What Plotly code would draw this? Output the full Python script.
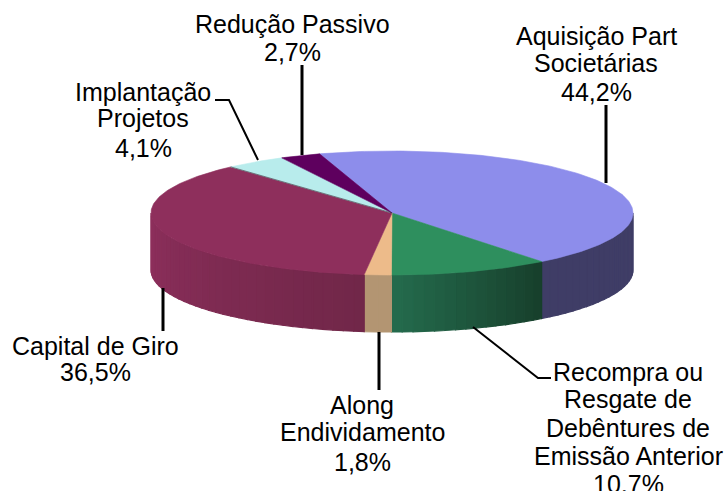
import numpy as np
import plotly.graph_objects as go

# Data (clockwise from the start angle)
labels = ["Aquisição Part Societárias", "Recompra ou Resgate de Debêntures de Emissão Anterior",
          "Along Endividamento", "Capital de Giro", "Implantação Projetos", "Redução Passivo"]
values = [44.2, 10.7, 1.8, 36.5, 4.1, 2.7]
label_lines = [["Aquisição Part", "Societárias", "44,2%"],
               ["Recompra ou", "Resgate de", "Debêntures de", "Emissão Anterior", "10,7%"],
               ["Along", "Endividamento", "1,8%"],
               ["Capital de Giro", "36,5%"],
               ["Implantação", "Projetos", "4,1%"],
               ["Redução Passivo", "2,7%"]]
top_colors = ["#8D8DEB", "#2E8F5E", "#EDBB8A", "#8E2F5C", "#B8ECEC", "#5E005E"]
wall_from = [(63, 61, 102), (36, 106, 76), (179, 149, 114), (141, 47, 92), None, None]
wall_to = [(63, 61, 102), (23, 64, 44), (179, 149, 114), (113, 39, 73), None, None]

# Projection of the pie
CX, CY, RX, RY, DEPTH, START = 392, 213, 241, 62, 57, -17.5

# Label placement: centre x, and centre y of each line
label_pos = [(596, [36, 63, 92]), (628, [372, 399, 428, 456, 484]), (362, [405, 432, 462]),
             (95, [346, 372]), (143, [92, 118, 148]), (292, [24, 52])]
leaders = [([606, 606], [105, 183], 3), ([473, 538, 551], [327, 378, 378], 2),
           ([379, 379], [332, 390], 3), ([163, 163], [288, 331], 3),
           ([258, 229, 215], [160, 100, 100], 2), ([302, 302], [65, 155], 3)]


def ell(t):
    r = np.radians(t)
    return CX + RX * np.sin(r), CY - RY * np.cos(r)


fig = go.Figure()
edges = START + np.concatenate([[0], np.cumsum(values)]) * 360 / sum(values)


def poly(x, y, color, lw=0.6):
    fig.add_trace(go.Scatter(x=x, y=y, mode="lines", fill="toself", fillcolor=color,
                             line=dict(color=color, width=lw), hoverinfo="skip", showlegend=False))


# side walls: only the front half of the rim shows
for i in range(len(values)):
    a, b = max(edges[i], 90), min(edges[i + 1], 270)
    if b <= a or wall_from[i] is None:
        continue
    n = max(2, int((b - a) / 2.5))
    steps = np.linspace(a, b, n + 1)
    for k in range(n):
        g = k / max(1, n - 1)  # angle grows leftwards on screen
        c = tuple(int(round(wall_from[i][j] * g + wall_to[i][j] * (1 - g))) for j in range(3))
        ts = np.linspace(steps[k], steps[k + 1], 4)
        x, y = ell(ts)
        poly(np.r_[x, x[::-1], x[0]], np.r_[y, y[::-1] + DEPTH, y[0]], f"rgb{c}", 1.2)

# top face
for i in range(len(values)):
    ts = np.linspace(edges[i], edges[i + 1], max(4, int(values[i] * 4)))
    x, y = ell(ts)
    poly(np.r_[CX, x, CX], np.r_[CY, y, CY], top_colors[i])

# faint seam between Capital de Giro and Implantação Projetos
sx, sy = ell(edges[4])
fig.add_trace(go.Scatter(x=[CX, sx], y=[CY, sy], mode="lines",
                         line=dict(color="rgba(50,40,50,0.55)", width=1),
                         hoverinfo="skip", showlegend=False))

# leader lines
for x, y, w in leaders:
    fig.add_trace(go.Scatter(x=x, y=y, mode="lines", line=dict(color="black", width=w),
                             hoverinfo="skip", showlegend=False))

annotations = []
for lines, (cx, ys) in zip(label_lines, label_pos):
    for text, yy in zip(lines, ys):
        annotations.append(dict(x=cx, y=yy, text=text, showarrow=False, xanchor="center", yanchor="middle",
                                font=dict(family="Liberation Sans, Arial, sans-serif", size=25, color="black")))

fig.update_layout(width=726, height=491, margin=dict(l=0, r=0, t=0, b=0),
                  paper_bgcolor="white", plot_bgcolor="white", annotations=annotations,
                  xaxis=dict(range=[0, 726], visible=False, fixedrange=True),
                  yaxis=dict(range=[491, 0], visible=False, fixedrange=True))
fig.write_html("out.html", config=dict(displayModeBar=False),
               post_script="document.body.style.margin='0';document.body.style.overflow='hidden';")
